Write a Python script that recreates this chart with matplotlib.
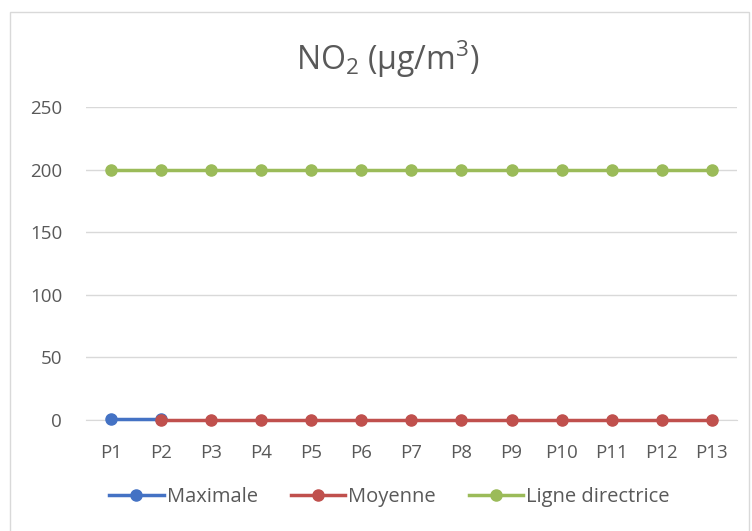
import matplotlib
matplotlib.use("Agg")
import matplotlib.pyplot as plt
import numpy as np
from matplotlib.patches import Rectangle

categories = ["P1", "P2", "P3", "P4", "P5", "P6", "P7", "P8", "P9", "P10", "P11", "P12", "P13"]
maximale = [0.5, 0.5] + [np.nan] * 11
moyenne = [np.nan, 0.3, 0.3, 0.3, 0.3, 0.3, 0.3, 0.3, 0.3, 0.3, 0.3, 0.3, 0.3]
ligne_directrice = [200] * 13
yticks = [0, 50, 100, 150, 200, 250]

plt.rcParams['font.family'] = ['Open Sans', 'DejaVu Sans']
plt.rcParams['mathtext.fontset'] = 'custom'
plt.rcParams['mathtext.rm'] = 'Open Sans'
plt.rcParams['mathtext.it'] = 'Open Sans'
plt.rcParams['mathtext.bf'] = 'Open Sans'
txt = '#595959'

fig = plt.figure(figsize=(7.52, 5.31), dpi=100)
ax = fig.add_axes([0.114, 0.209, 0.866, 0.589])
x = np.arange(len(categories))

ax.plot(x, maximale, color='#4472C4', lw=2.5, marker='o', ms=8, label='Maximale', zorder=3, clip_on=False)
ax.plot(x, moyenne, color='#C0504D', lw=2.5, marker='o', ms=8, label='Moyenne', zorder=4, clip_on=False)
ax.plot(x, ligne_directrice, color='#9BBB59', lw=2.5, marker='o', ms=8, label='Ligne directrice', zorder=5, clip_on=False)

ax.set_xlim(-0.5, len(categories) - 0.5)
ax.set_ylim(0, 250)
ax.set_yticks(yticks)
ax.set_xticks(x)
ax.set_xticklabels(categories)
ax.grid(axis='y', color='#D9D9D9', lw=1)
ax.set_axisbelow(True)
for s in ['top', 'right', 'left']:
    ax.spines[s].set_visible(False)
ax.spines['bottom'].set_color('#D9D9D9')
ax.tick_params(axis='both', length=0, labelsize=13.5, colors=txt)
ax.tick_params(axis='y', pad=17)
ax.tick_params(axis='x', pad=17)

fig.text(0.516, 0.888, r'NO$_\mathrm{2}$ (µg/m$^\mathrm{3}$)', ha='center', va='center', fontsize=23, color=txt)

leg = fig.legend(loc='center', bbox_to_anchor=(0.518, 0.064), ncol=3, frameon=False,
                 fontsize=14.5, labelcolor=txt, handlelength=2.7, handletextpad=0.15, columnspacing=1.65)

fig.patches.append(Rectangle((0.0133, -0.01), 0.983, 0.987, transform=fig.transFigure,
                             fill=False, edgecolor='#D9D9D9', lw=1))

fig.savefig('out.png', dpi=100, facecolor='white')
